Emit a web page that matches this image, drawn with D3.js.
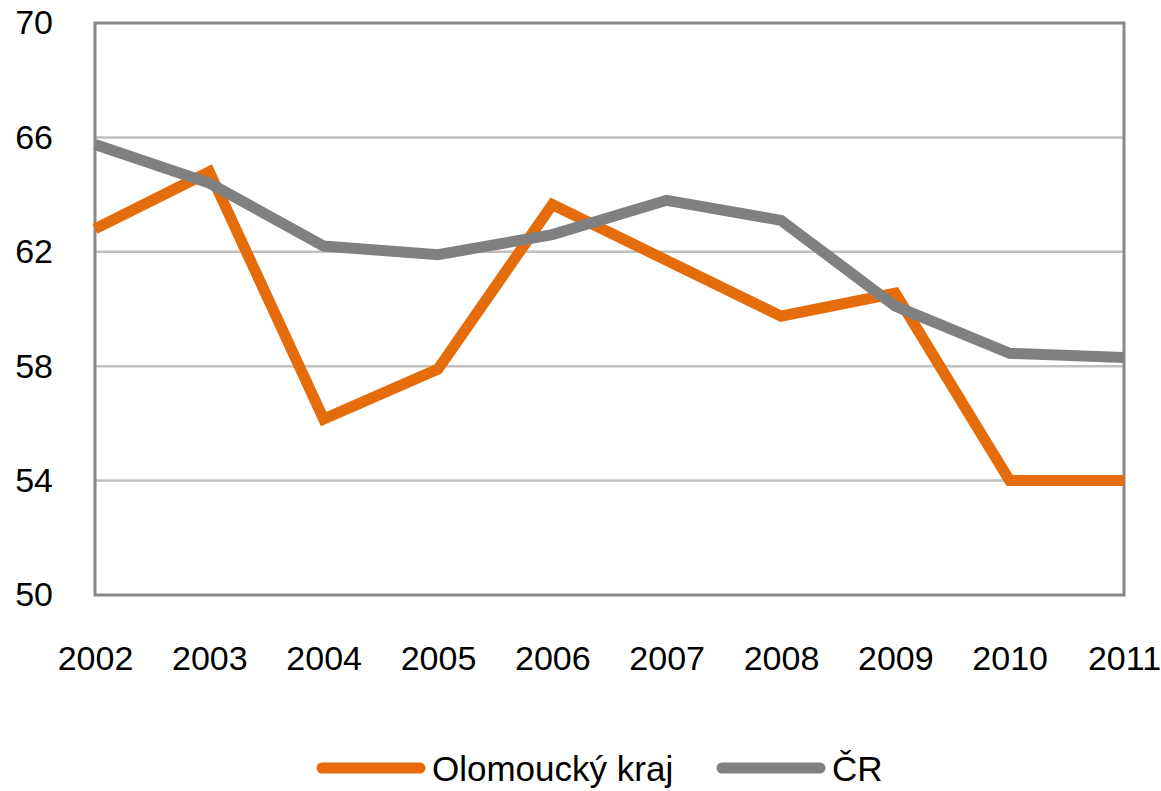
<!DOCTYPE html>
<html>
<head>
<meta charset="utf-8">
<script src="https://cdn.jsdelivr.net/npm/d3@7"></script>
<style>
  body { margin: 0; background: #fff; }
  text { font-family: "Liberation Sans", Arial, sans-serif; fill: #000; }
</style>
</head>
<body>
<div id="chart"></div>
<script>
// data
var years = [2002, 2003, 2004, 2005, 2006, 2007, 2008, 2009, 2010, 2011];
var olomouc = [62.8, 64.8, 56.15, 57.9, 63.65, 61.7, 59.75, 60.55, 54.0, 54.0];
var cr = [65.75, 64.4, 62.2, 61.9, 62.6, 63.8, 63.1, 60.1, 58.45, 58.3];
var yTicks = [50, 54, 58, 62, 66, 70];
var seriesNames = ["Olomoucký kraj", "ČR"];

var width = 1161,
    height = 791;

var pLeft = 95, pRight = 1124, pTop = 23, pBottom = 595;

var svg = d3.select("#chart")
    .append("svg")
    .attr("width", width)
    .attr("height", height);

var x = d3.scalePoint()
    .domain(years)
    .range([pLeft, pRight]);

var y = d3.scaleLinear()
    .domain([50, 70])
    .range([pBottom, pTop]);

// gridlines
svg.append("g")
    .selectAll("line")
    .data(yTicks.filter(function (d) { return d > 50 && d < 70; }))
    .enter().append("line")
    .attr("x1", pLeft)
    .attr("x2", pRight)
    .attr("y1", function (d) { return y(d); })
    .attr("y2", function (d) { return y(d); })
    .style("stroke", "#c0c0c0")
    .style("stroke-width", 2.5);

// plot frame
svg.append("rect")
    .attr("x", pLeft)
    .attr("y", pTop)
    .attr("width", pRight - pLeft)
    .attr("height", pBottom - pTop)
    .style("fill", "none")
    .style("stroke", "#888")
    .style("stroke-width", 3);

// y axis labels
var yAxis = d3.axisLeft(y).tickValues(yTicks).tickSize(0).tickPadding(42);
svg.append("g")
    .attr("transform", "translate(" + pLeft + ",0)")
    .call(yAxis)
    .call(function (g) { g.select(".domain").remove(); })
    .selectAll("text")
    .style("font-size", "34px")
    .style("font-family", "'Liberation Sans', Arial, sans-serif");

// x axis labels
var xAxis = d3.axisBottom(x).tickSize(0).tickPadding(51);
svg.append("g")
    .attr("transform", "translate(0," + pBottom + ")")
    .call(xAxis)
    .call(function (g) { g.select(".domain").remove(); })
    .selectAll("text")
    .style("font-size", "34px")
    .style("font-family", "'Liberation Sans', Arial, sans-serif");

var line = d3.line()
    .x(function (d, i) { return x(years[i]); })
    .y(function (d) { return y(d); });

var colors = ["#e46c0a", "#808080"];

// orange first, the gray line sits over it
[olomouc, cr].forEach(function (s, i) {
    svg.append("path")
        .datum(s)
        .attr("d", line)
        .style("fill", "none")
        .style("stroke", colors[i])
        .style("stroke-width", 11)
        .style("stroke-linejoin", "miter");
});

// legend
var legend = svg.append("g");
var legX = [322, 722];
seriesNames.forEach(function (name, i) {
    legend.append("line")
        .attr("x1", legX[i])
        .attr("x2", legX[i] + 98)
        .attr("y1", 768)
        .attr("y2", 768)
        .style("stroke", colors[i])
        .style("stroke-width", 11)
        .style("stroke-linecap", "round");
    legend.append("text")
        .attr("x", legX[i] + 110)
        .attr("y", 768)
        .attr("dy", "0.36em")
        .style("font-size", "35px")
        .text(name);
});
</script>
</body>
</html>
